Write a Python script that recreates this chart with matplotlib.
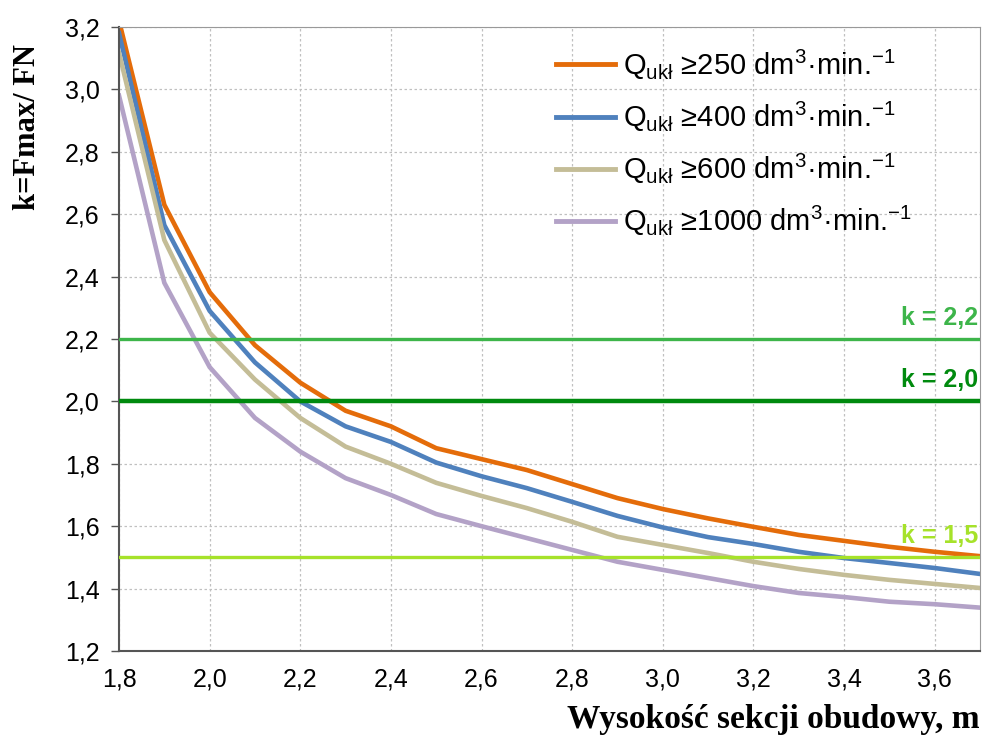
import numpy as np
import matplotlib
matplotlib.use("Agg")
import matplotlib.pyplot as plt

plt.rcParams['font.family'] = ['Liberation Sans', 'DejaVu Sans']
plt.rcParams['mathtext.fontset'] = 'custom'
plt.rcParams['mathtext.rm'] = 'Liberation Sans'
plt.rcParams['mathtext.it'] = 'Liberation Sans:italic'

# Section height, m
height = [1.8, 1.9, 2.0, 2.1, 2.2, 2.3, 2.4, 2.5, 2.6, 2.7,
          2.8, 2.9, 3.0, 3.1, 3.2, 3.3, 3.4, 3.5, 3.6, 3.7]

# k = Fmax / FN for each flow rate
k_250 = [3.22, 2.63, 2.35, 2.18, 2.06, 1.97, 1.92, 1.85, 1.815, 1.78,
         1.735, 1.69, 1.655, 1.625, 1.598, 1.572, 1.553, 1.534, 1.518, 1.504]
k_400 = [3.18, 2.565, 2.29, 2.125, 2.0, 1.92, 1.87, 1.804, 1.76, 1.722,
         1.678, 1.633, 1.596, 1.565, 1.543, 1.518, 1.498, 1.482, 1.466, 1.447]
k_600 = [3.117, 2.517, 2.22, 2.07, 1.947, 1.855, 1.80, 1.739, 1.697, 1.658,
         1.614, 1.566, 1.54, 1.514, 1.486, 1.463, 1.444, 1.428, 1.415, 1.402]
k_1000 = [2.98, 2.38, 2.11, 1.947, 1.839, 1.754, 1.70, 1.639, 1.60, 1.562,
          1.524, 1.486, 1.46, 1.434, 1.408, 1.386, 1.373, 1.358, 1.35, 1.339]

series = [
    (k_250, '#E46C0A', '250'),
    (k_400, '#4F81BD', '400'),
    (k_600, '#C4BD97', '600'),
    (k_1000, '#B3A2C7', '1000'),
]

# reference levels of k
k_levels = [2.2, 2.0, 1.5]
k_labels = ['k = 2,2', 'k = 2,0', 'k = 1,5']
k_colors = ['#3DB54A', '#008A0E', '#A6E22A']
k_widths = [2.4, 3.2, 2.4]

fig = plt.figure(figsize=(9.82, 7.43), dpi=100)
ax = fig.add_axes([0.1212, 0.1238, 0.8768, 0.8399])

for vals, col, q in series:
    ax.plot(height, vals, color=col, lw=3.3, solid_joinstyle='miter',
            label=r'Q$_{\mathrm{ukł}}$ ≥' + q + r' dm$^{3}$·min.$^{\mathrm{-1}}$')

for lev, lab, col, lw in zip(k_levels, k_labels, k_colors, k_widths):
    ax.axhline(lev, color=col, lw=lw, zorder=3)
    ax.text(3.695, lev + 0.03, lab, color=col, fontsize=18, fontweight='bold',
            ha='right', va='bottom', zorder=4)

ax.set_xlim(1.8, 3.7)
ax.set_ylim(1.2, 3.2)
xt = np.arange(1.8, 3.61, 0.2)
yt = np.arange(1.2, 3.21, 0.2)
ax.set_xticks(xt)
ax.set_yticks(yt)
ax.set_xticklabels([f'{v:.1f}'.replace('.', ',') for v in xt], fontsize=18)
ax.set_yticklabels([f'{v:.1f}'.replace('.', ',') for v in yt], fontsize=18)
ax.tick_params(axis='x', length=0, pad=12)
ax.tick_params(axis='y', length=6, width=1, color='#555555', pad=8)

ax.grid(True, color='#c0c0c0', lw=0.9, linestyle=(0, (2, 2)))
for s in ['top', 'right']:
    ax.spines[s].set_color('#999999')
for s in ['left', 'bottom']:
    ax.spines[s].set_color('#555555')
    ax.spines[s].set_linewidth(1.5)

ax.set_ylabel('k=Fmax/ FN', fontsize=22, fontweight='bold',
              family='Liberation Serif')
ax.yaxis.set_label_coords(-0.09, 0.84)
ax.set_xlabel('Wysokość sekcji obudowy, m', fontsize=24, fontweight='bold',
              family='Liberation Serif')
ax.xaxis.set_label_coords(1.0, -0.085)
ax.xaxis.label.set_horizontalalignment('right')

leg = ax.legend(loc='upper right', bbox_to_anchor=(0.945, 1.0), frameon=False,
                fontsize=21, handlelength=2.0, handletextpad=0.3,
                labelspacing=0.62, borderaxespad=0.3)
for h in leg.get_lines():
    h.set_linewidth(3.5)

fig.savefig('out.png', dpi=100)
